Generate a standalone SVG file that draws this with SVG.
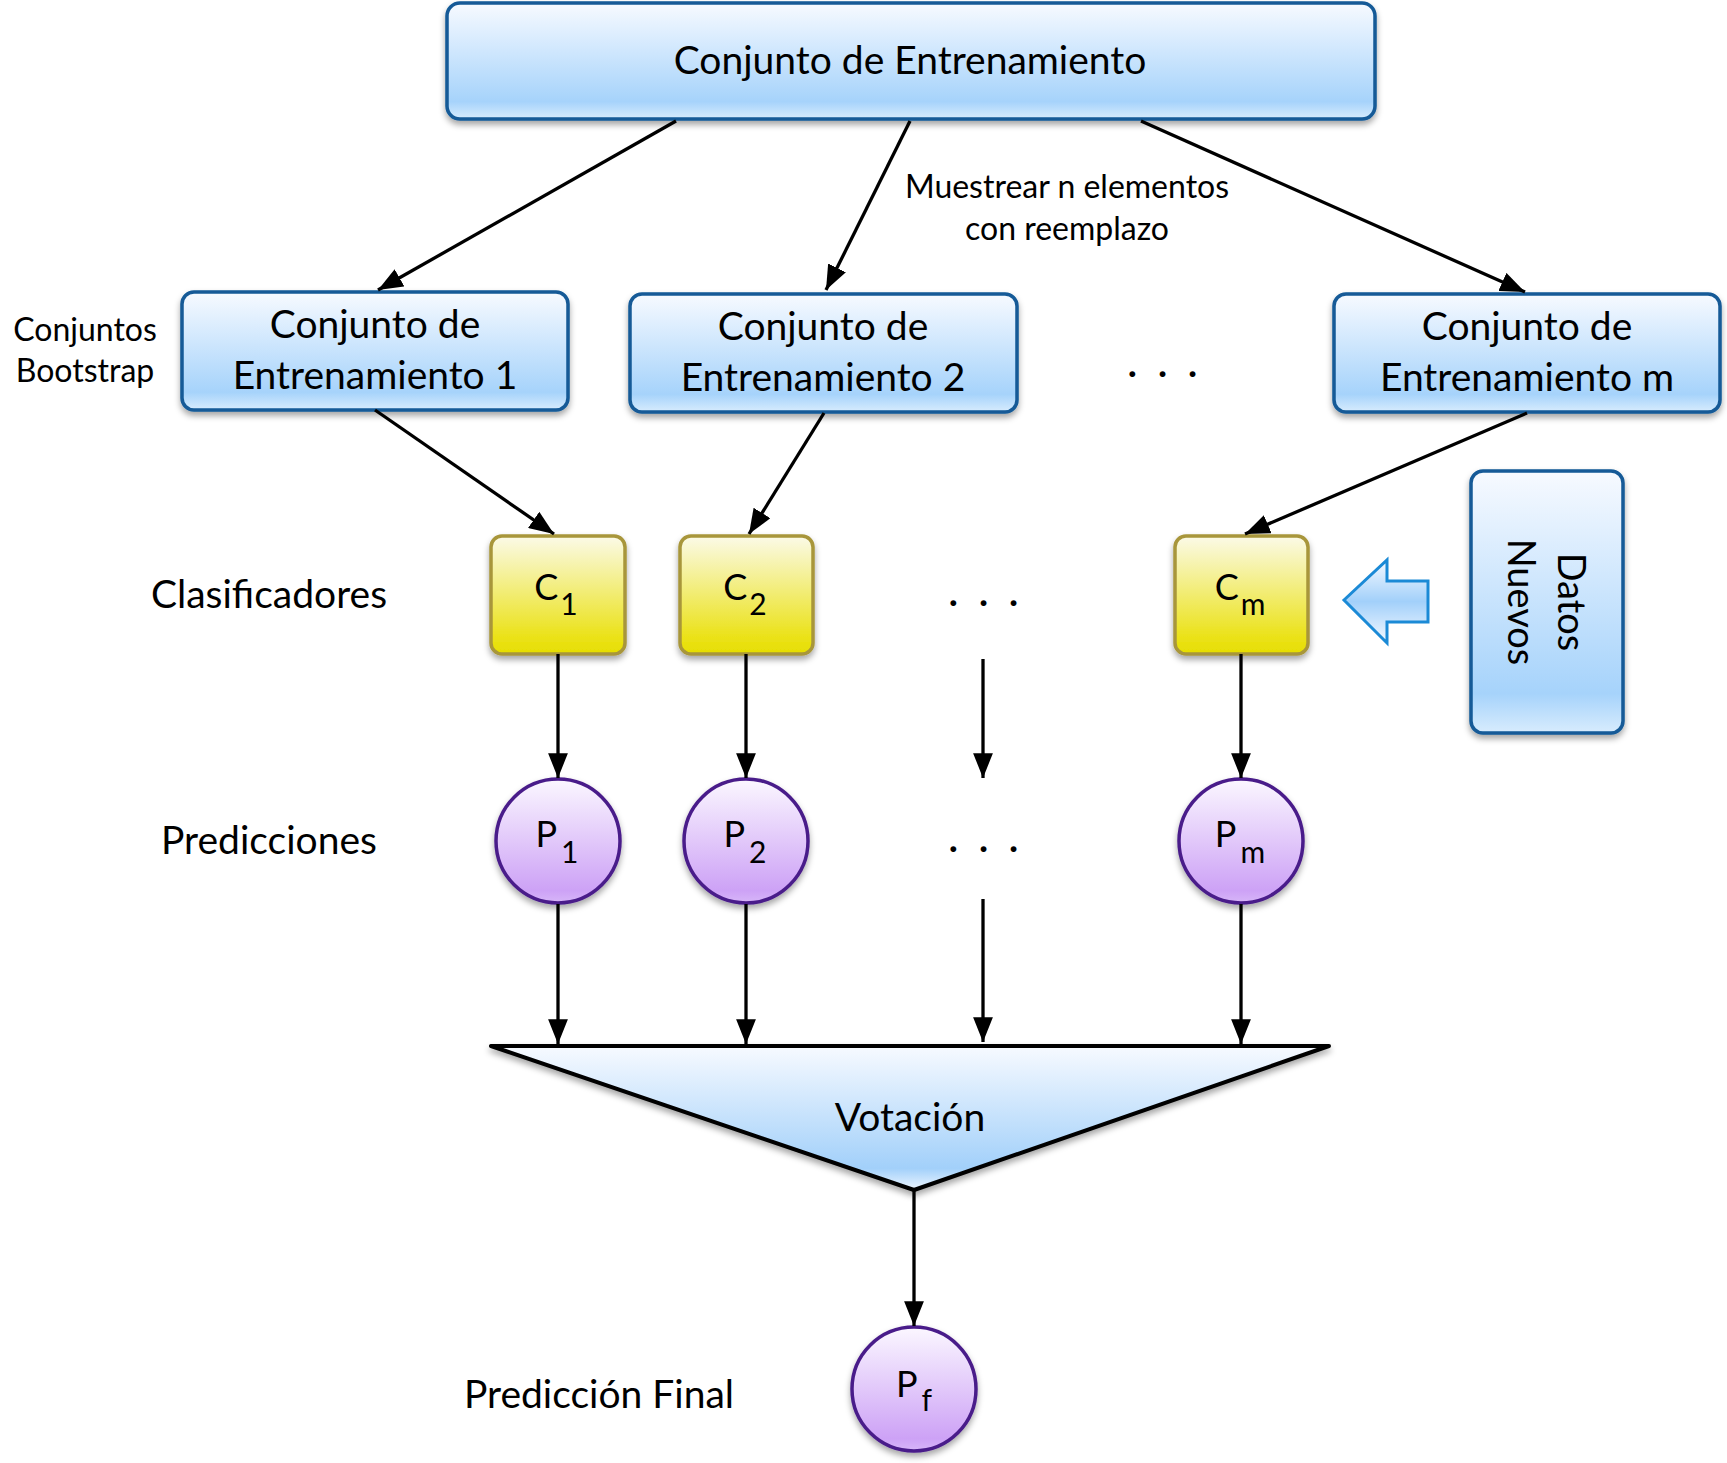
<svg xmlns="http://www.w3.org/2000/svg" width="1727" height="1463" viewBox="0 0 1727 1463">
<defs>
<linearGradient id="gBlue" x1="0" y1="0" x2="0" y2="1">
<stop offset="0" stop-color="#f7faff"/>
<stop offset="0.85" stop-color="#a6d3fb"/>
<stop offset="1" stop-color="#d8ecfd"/>
</linearGradient>
<linearGradient id="gYellow" x1="0" y1="0" x2="0" y2="1">
<stop offset="0" stop-color="#fbfae8"/>
<stop offset="0.85" stop-color="#ebe21a"/>
<stop offset="1" stop-color="#e6de00"/>
</linearGradient>
<linearGradient id="gPurple" x1="0" y1="0" x2="0" y2="1">
<stop offset="0" stop-color="#fbf7ff"/>
<stop offset="0.9" stop-color="#cda2f6"/>
<stop offset="1" stop-color="#d7b6f8"/>
</linearGradient>
<linearGradient id="gTri" x1="0" y1="0" x2="0" y2="1">
<stop offset="0" stop-color="#f7faff"/>
<stop offset="0.85" stop-color="#a2d0fa"/>
<stop offset="1" stop-color="#eef6ff"/>
</linearGradient>
<linearGradient id="gArrow" x1="0" y1="0" x2="0" y2="1">
<stop offset="0" stop-color="#f5f9ff"/>
<stop offset="0.5" stop-color="#a2d0fa"/>
<stop offset="1" stop-color="#f5f9ff"/>
</linearGradient>
<filter id="sh" x="-20%" y="-20%" width="140%" height="150%">
<feDropShadow dx="0" dy="4" stdDeviation="3" flood-color="#000" flood-opacity="0.35"/>
</filter>
<marker id="ah" viewBox="0 0 10 8" refX="10" refY="4" markerWidth="7.5" markerHeight="6" orient="auto" markerUnits="strokeWidth">
<path d="M0,0 L10,4 L0,8 z" fill="#000"/>
</marker>
</defs>
<style>
text{font-family:Lato,"Noto Sans","DejaVu Sans",sans-serif;fill:#000;text-anchor:middle}
.blue{fill:url(#gBlue);stroke:#135a97;stroke-width:3.5;filter:url(#sh)}
.yel{fill:url(#gYellow);stroke:#a8963a;stroke-width:3.5;filter:url(#sh)}
.pur{fill:url(#gPurple);stroke:#4a1c8a;stroke-width:3.5;filter:url(#sh)}
.big{font-size:39px}
.box{font-size:39px}
.lab{font-size:39px}
.small{font-size:32px}
.dots{font-size:39px;letter-spacing:5px}
.vert{font-size:38px}
.node{font-size:36px}
.sub{font-size:30px}
.conn line{stroke:#000;stroke-width:3.3;marker-end:url(#ah)}
</style>

<g id="top">
<rect class="blue" x="447" y="3" width="928" height="116" rx="13"/>
<text class="big" x="910" y="74">Conjunto de Entrenamiento</text>
</g>

<g id="labels">
<text class="small" x="85" y="341">Conjuntos</text>
<text class="small" x="85" y="382">Bootstrap</text>
<text class="small" x="1067" y="198">Muestrear n elementos</text>
<text class="small" x="1067" y="240">con reemplazo</text>
<text class="lab" x="269" y="608">Clasificadores</text>
<text class="lab" x="269" y="854">Predicciones</text>
<text class="lab" x="599" y="1408">Predicción Final</text>
<text class="dots" x="1165" y="386">· · ·</text>
<text class="dots" x="986" y="615">· · ·</text>
<text class="dots" x="986" y="861">· · ·</text>
</g>

<g id="boot1">
<rect class="blue" x="182" y="292" width="386" height="118" rx="12"/>
<text class="box" x="375" y="338">Conjunto de</text>
<text class="box" x="375" y="389">Entrenamiento 1</text>
</g>
<g id="boot2">
<rect class="blue" x="630" y="294" width="387" height="118" rx="12"/>
<text class="box" x="823" y="340">Conjunto de</text>
<text class="box" x="823" y="391">Entrenamiento 2</text>
</g>
<g id="bootm">
<rect class="blue" x="1334" y="294" width="386" height="118" rx="12"/>
<text class="box" x="1527" y="340">Conjunto de</text>
<text class="box" x="1527" y="391">Entrenamiento m</text>
</g>

<g id="c1">
<rect class="yel" x="491" y="536" width="134" height="118" rx="11"/>
<text class="node" x="556" y="600">C<tspan class="sub" dx="2" dy="15">1</tspan></text>
</g>
<g id="c2">
<rect class="yel" x="680" y="536" width="133" height="118" rx="11"/>
<text class="node" x="745" y="600">C<tspan class="sub" dx="2" dy="15">2</tspan></text>
</g>
<g id="cm">
<rect class="yel" x="1175" y="536" width="133" height="118" rx="11"/>
<text class="node" x="1240" y="600">C<tspan class="sub" dx="2" dy="15">m</tspan></text>
</g>

<g id="datos">
<rect class="blue" x="1471" y="471" width="152" height="262" rx="12"/>
<text class="vert" transform="translate(1546,602) rotate(90)" y="-12">Datos</text>
<text class="vert" transform="translate(1546,602) rotate(90)" y="38">Nuevos</text>
</g>

<g id="newarrow">
<path d="M1344,600 L1387,560 L1387,581 L1428,581 L1428,622 L1387,622 L1387,643 Z" fill="url(#gArrow)" stroke="#1b8ad6" stroke-width="3" stroke-linejoin="miter"/>
</g>

<g id="p1">
<circle class="pur" cx="558" cy="841" r="62"/>
<text class="node" x="557" y="847">P<tspan class="sub" dx="4" dy="16">1</tspan></text>
</g>
<g id="p2">
<circle class="pur" cx="746" cy="841" r="62"/>
<text class="node" x="745" y="847">P<tspan class="sub" dx="4" dy="16">2</tspan></text>
</g>
<g id="pm">
<circle class="pur" cx="1241" cy="841" r="62"/>
<text class="node" x="1240" y="847">P<tspan class="sub" dx="4" dy="16">m</tspan></text>
</g>

<g id="votacion">
<path d="M491,1046 L1329,1046 L914,1190 Z" fill="url(#gTri)" stroke="#000" stroke-width="4" stroke-linejoin="round" filter="url(#sh)"/>
<text class="lab" x="910" y="1131">Votación</text>
</g>

<g id="pf">
<circle class="pur" cx="914" cy="1389" r="62"/>
<text class="node" x="914" y="1397">P<tspan class="sub" dx="4" dy="14">f</tspan></text>
</g>

<g id="connectors" class="conn">
<line x1="676" y1="121" x2="378" y2="290"/>
<line x1="910" y1="121" x2="826" y2="290"/>
<line x1="1141" y1="121" x2="1525" y2="292"/>
<line x1="375" y1="410" x2="554" y2="534"/>
<line x1="824" y1="413" x2="749" y2="534"/>
<line x1="1527" y1="413" x2="1245" y2="534"/>
<line x1="558" y1="654" x2="558" y2="778"/>
<line x1="746" y1="654" x2="746" y2="778"/>
<line x1="983" y1="659" x2="983" y2="778"/>
<line x1="1241" y1="654" x2="1241" y2="778"/>
<line x1="558" y1="904" x2="558" y2="1044"/>
<line x1="746" y1="904" x2="746" y2="1044"/>
<line x1="983" y1="899" x2="983" y2="1042"/>
<line x1="1241" y1="904" x2="1241" y2="1044"/>
<line x1="914" y1="1190" x2="914" y2="1326"/>
</g>
</svg>
